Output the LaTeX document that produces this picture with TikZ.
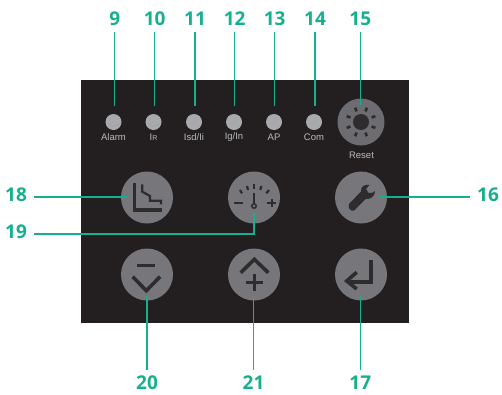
\documentclass[tikz,border=0pt]{standalone}
\usepackage{fontspec}
\usetikzlibrary{calc}
\setmainfont{Open Sans}
\newfontfamily\ledfont{Liberation Sans}
\definecolor{panelgray}{HTML}{231F20}
\definecolor{btngray}{HTML}{77777B}
\definecolor{ledgray}{HTML}{A7A9AC}
\definecolor{glyphgray}{HTML}{2E2C2D}
\definecolor{leadgreen}{HTML}{17B08E}
\tikzset{
  led/.style={circle,fill=ledgray,inner sep=0pt,minimum size=16pt},
  btn/.style={circle,fill=btngray,inner sep=0pt,minimum size=52pt},
  ledtext/.style={inner sep=0pt,text=ledgray!80!white,font=\ledfont\fontsize{9.5}{10}\selectfont},
  numlabel/.style={inner sep=0pt,outer sep=0pt,minimum width=36pt,minimum height=26pt,text=leadgreen,font=\bfseries\fontsize{19}{20}\selectfont},
  sidelabel/.style={numlabel,text height=14pt,text depth=5.4pt},
  leader/.style={draw=leadgreen,line width=1.5pt},
  glyph/.style={draw=glyphgray,line width=3.6pt},
  thinglyph/.style={draw=glyphgray,line width=2.2pt}
}
\begin{document}
\begin{tikzpicture}[x=1pt,y=-1pt]
  \useasboundingbox (0,0) rectangle (502,394);
  % panel
  \fill[panelgray] (81,80) rectangle (409,323);
  % leds
  \foreach \ledname/\ledx/\ledlabel in {alarm/113.5/Alarm,ir/153.5/{I{\fontsize{7}{7}\selectfont R}},isd/194/{Isd/Ii},ig/234/{Ig/In},ap/274/AP,com/314/Com}{
    \node[led] (\ledname) at (\ledx,122) {};
    \node[ledtext] (\ledname text) at (\ledx,137) {\ledlabel};
  }
  % buttons
  \node[btn,minimum size=47pt,fill=btngray!92!black] (reset) at (361,122) {};
  \node[ledtext] (resettext) at (361.5,155.5) {Reset};
  \node[btn] (curve) at (147,197.5) {};
  \node[btn] (gauge) at (254,197.5) {};
  \node[btn] (tool) at (361,197.5) {};
  \node[btn] (down) at (147,274.5) {};
  \node[btn] (up) at (254,274.5) {};
  \node[btn] (enter) at (361,274.5) {};
  % numbers
  \node[numlabel] (n9) at (114.7,19) {9};
  \node[numlabel] (n10) at (154.7,19) {10};
  \node[numlabel] (n11) at (195,19) {11};
  \node[numlabel] (n12) at (234.7,19) {12};
  \node[numlabel] (n13) at (274.7,19) {13};
  \node[numlabel] (n14) at (315,19) {14};
  \node[numlabel] (n15) at (360.3,19) {15};
  \node[sidelabel] (n18) at (16,196.8) {18};
  \node[sidelabel] (n19) at (16,234) {19};
  \node[sidelabel] (n16) at (488,196.8) {16};
  \node[numlabel] (n20) at (147,383) {20};
  \node[numlabel] (n21) at (253.5,383) {21};
  \node[numlabel] (n17) at (360.3,383) {17};
  % reset glyph
  \fill[glyphgray] (reset) circle (8);
  \foreach \ang in {22.5,67.5,...,337.5}
    \draw[thinglyph,line width=2.6pt] ($(reset)+(\ang:11.5)$) -- ($(reset)+(\ang:15.5)$);
  % curve glyph
  \draw[glyph,line width=3.2pt] (134.7,183.3) -- (134.7,210) -- (162.3,210);
  \draw[thinglyph] (142.3,184.3) -- (142.3,191.7) -- (150,196) -- (150,200.7) -- (161,200.7) -- (161,204.3);
  % gauge glyph
  \draw[thinglyph,line width=1.5pt] (254,206) circle (2.2);
  \draw[thinglyph] (254,203.8) -- (254,192.7);
  \foreach \tickax/\tickay/\tickbx/\tickby in {240/190/242/193.3,247/186/248/190,254/184.3/254/189,261.3/186/260.3/190,269/190/266.3/193.3}
    \draw[thinglyph] (\tickax,\tickay) -- (\tickbx,\tickby);
  \draw[thinglyph] (234,203) -- (242.7,203);
  \draw[thinglyph] (267.4,203) -- (276,203);
  \draw[thinglyph] (271.7,198.7) -- (271.7,207.3);
  % tool glyph
  \fill[glyphgray] (349,204) -- (361,191.5) .. controls (360.5,186) and (365,184) .. (369.5,185) -- (366,189) -- (368.5,193) -- (373,192.5) -- (375,191) .. controls (375,196) and (371,199.5) .. (365.5,199) -- (354,210.5) .. controls (351,212) and (347.5,208) .. (349,204) -- cycle;
  % down glyph
  \draw[glyph,line width=2.8pt] (137.3,265.3) -- (154.7,265.3);
  \draw[glyph] (132.7,276.7) -- (146.3,290.7) -- (160,276.7);
  % up glyph
  \draw[glyph] (240.7,272.7) -- (254.3,259.3) -- (268.3,272.7);
  \draw[glyph,line width=2.8pt] (245.6,282.7) -- (263,282.7);
  \draw[glyph,line width=2.8pt] (254.3,274) -- (254.3,291.4);
  % enter glyph
  \draw[glyph] (370.7,260) -- (370.7,281.7) -- (348.3,281.7);
  \draw[glyph] (356.7,272.3) -- (346.7,281) -- (356.7,289);
  % leaders
  \draw[leader,shorten >=8pt] (n9) -- (n9 |- alarm.north);
  \draw[leader,shorten >=8pt] (n10) -- (n10 |- ir.north);
  \draw[leader,shorten >=8pt] (n11) -- (n11 |- isd.north);
  \draw[leader,shorten >=8pt] (n12) -- (n12 |- ig.north);
  \draw[leader,shorten >=8pt] (n13) -- (n13 |- ap.north);
  \draw[leader,shorten >=8pt] (n14) -- (n14 |- com.north);
  \draw[leader,shorten >=-6.5pt] (n15) -- (n15 |- reset.north);
  \draw[leader,shorten >=-6pt] (n18) -- (n18 -| curve.west);
  \draw[leader,shorten >=-10.5pt] (n19) -| (gauge.south);
  \draw[leader,shorten >=-7pt] (n16) -- (n16 -| tool.east);
  \draw[leader,shorten >=-4.5pt] (n20) -- (n20 |- down.south);
  \draw[leader,shorten >=-4.5pt] (n21) -- (n21 |- up.south);
  \draw[leader,shorten >=-5pt] (n17) -- (n17 |- enter.south);
\end{tikzpicture}
\end{document}
